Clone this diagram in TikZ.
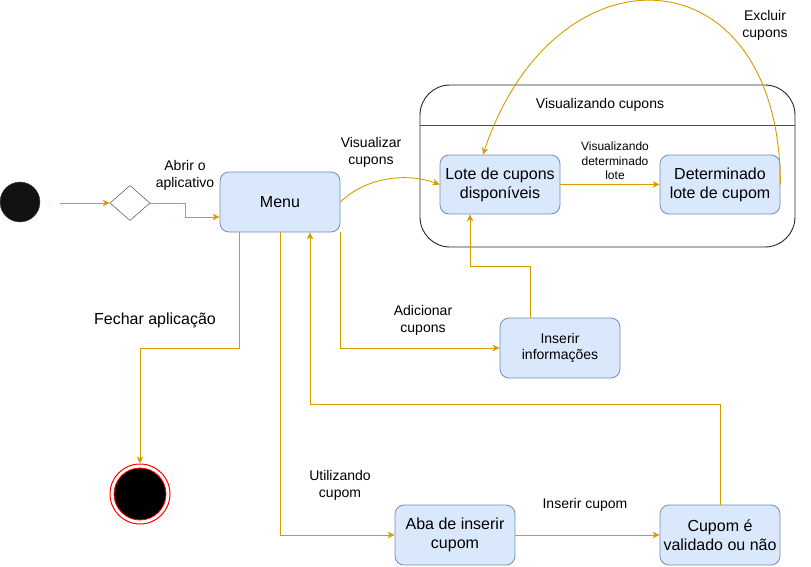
\documentclass[tikz,border=0pt]{standalone}
\usepackage{fontspec}
\setmainfont{Liberation Sans}
\usetikzlibrary{arrows.meta,shapes.geometric,calc}
\definecolor{edgec}{HTML}{D79B00}
\definecolor{boxfill}{HTML}{DAE8FC}
\definecolor{boxline}{HTML}{6C8EBF}
\begin{document}
\begin{tikzpicture}[x=1pt,y=-1pt,
  state/.style={draw=boxline, fill=boxfill, rounded corners=9pt, minimum width=120pt, minimum height=60pt, align=center, inner sep=2pt, font=\fontsize{16}{19.2}\selectfont, line width=0.8pt},
  conn/.style={draw=edgec, line width=0.9pt, -{Stealth[length=7pt,width=6.5pt,inset=2pt]}},
  lbl/.style={align=center, font=\fontsize{14}{16.8}\selectfont},
  ]
\useasboundingbox (0,0) rectangle (811,566);
% nodes
\node[circle, fill=black!93, draw=black!70, minimum size=40pt, inner sep=0] (start) at (20,202) {};
\coordinate (s0) at (60,203);
\node[diamond, draw=black!80, fill=white, minimum width=40pt, minimum height=35pt, inner sep=0] (dia) at (130,203) {};
\node[state] (menu) at (280,202) {Menu};
\node[draw=black!85, line width=0.9pt, rounded corners=30pt, minimum width=375pt, minimum height=162pt, inner sep=0] (vis) at (607.5,166) {};
\draw[black!70, line width=1pt] (vis.west |- 0,125) -- (vis.east |- 0,125);
\node[lbl] (vistitle) at (600,105) {Visualizando cupons};
\node[state, minimum height=59pt] (lote) at (500,184.5) {Lote de cupons\\disponíveis};
\node[state, minimum height=59pt] (det) at (720,184.5) {Determinado\\lote de cupom};
\node[state, font=\fontsize{14}{16.8}\selectfont] (ins) at (560,348) {Inserir\\informações};
\node[state] (aba) at (455,535) {Aba de inserir\\cupom};
\node[state] (cup) at (720,535) {Cupom é\\validado ou não};
\node[circle, draw=red, line width=1pt, minimum size=60pt, inner sep=0] (fin) at (140,494) {};
\node[circle, fill=black, draw=red, line width=0.8pt, minimum size=52pt, inner sep=0] (fincore) at (fin.center) {};
% connectors
\draw[conn] (s0) -- (dia.west);
\draw[conn] (dia.east) -- ++(35,0) |- ([yshift=-15pt]menu.west);
\node[lbl] (l1) at (185,175) {Abrir o\\aplicativo};
\draw[conn] (menu.east) .. controls (365,178) and (405,172) .. (lote.west);
\node[lbl] (l2) at (371,152) {Visualizar\\cupons};
\draw[conn] (lote.east) -- (det.west);
\node[align=center, font=\fontsize{12}{14.4}\selectfont] (l3) at (615,161) {Visualizando\\determinado\\lote};
\draw[conn] (det.east) .. controls (780,-50) and (555,-60) .. ([xshift=-17pt]lote.north);
\node[lbl] (l4) at (765,25) {Excluir\\cupons};
\draw[conn] (menu.south east) |- (ins.west);
\node[lbl] (l5) at (423,320) {Adicionar\\cupons};
\draw[conn] ([xshift=-30pt]ins.north) -- ++(0,-51) -| ([xshift=-30pt]lote.south);
\draw[conn] ([xshift=20pt]menu.south west) -- ++(0,116) -| (fin.north);
\node[align=center, font=\fontsize{16}{19.2}\selectfont] (l6) at (155,320) {Fechar aplicação};
\draw[conn] (menu.south) |- (aba.west);
\node[lbl] (l7) at (340,485) {Utilizando\\cupom};
\draw[conn] (aba.east) -- (cup.west);
\node[lbl] (l8) at (585,505) {Inserir cupom};
\draw[conn] (cup.north) -- ++(0,-100) -| ([xshift=30pt]menu.south);
\end{tikzpicture}
\end{document}
